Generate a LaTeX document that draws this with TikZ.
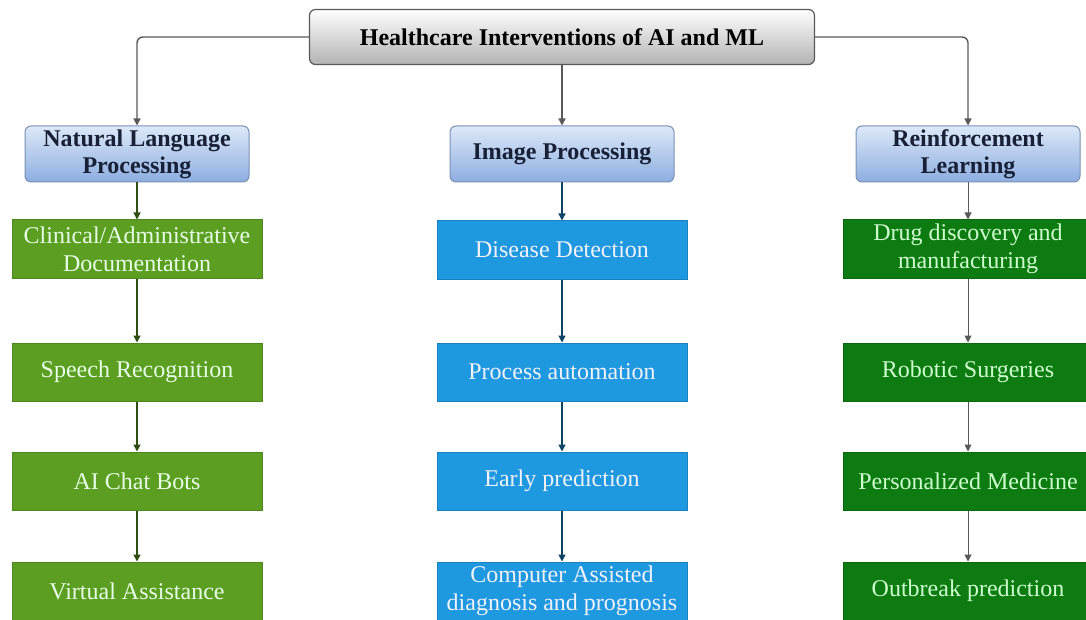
\documentclass[tikz,border=0pt]{standalone}
\usepackage{fontspec}
\setmainfont{Liberation Serif}
\usetikzlibrary{arrows.meta,positioning,shapes}
\definecolor{leafgreen}{HTML}{5C9E22}
\definecolor{leafblue}{HTML}{1E98DE}
\definecolor{leafdark}{HTML}{0E7A12}
\definecolor{headtop}{HTML}{DCE8F8}
\definecolor{headbot}{HTML}{8DAEE0}
\definecolor{headline}{HTML}{7A90B4}
\definecolor{headtext}{HTML}{172036}
\definecolor{linegray}{HTML}{595959}

\begin{document}
\begin{tikzpicture}[x=1pt,y=-1pt,
  rootbox/.style={draw=linegray,line width=1.2pt,rounded corners=6pt,
    top color=white,bottom color=black!30,minimum width=505pt,minimum height=55pt,
    inner sep=0pt,font=\fontsize{24}{28}\selectfont\bfseries,text=black},
  headbox/.style={draw=headline,line width=1pt,rounded corners=6pt,
    top color=headtop,bottom color=headbot,minimum width=224pt,minimum height=56pt,
    inner sep=0pt,align=center,font=\fontsize{24}{27}\selectfont\bfseries,text=headtext},
  leaf/.style={draw=#1!85!black,line width=1pt,fill=#1,minimum width=250pt,
    minimum height=58pt,inner sep=0pt,align=center,font=\fontsize{24}{28}\selectfont},
  arr/.style={-{Triangle[length=7pt,width=7pt]},line width=1.4pt,draw=linegray}]

\path[use as bounding box,clip] (0,0) rectangle (1086,620);

% ---- root and the three branches ------------------------------------------
\node[rootbox]              (root) at (562,37)  {Healthcare Interventions of AI and ML};
\node[headbox]              (nlp)  at (137,154) {Natural Language\\Processing};
\node[headbox]              (imp)  at (562,154) {Image Processing};
\node[headbox]              (rl)   at (968,154) {Reinforcement\\Learning};

% ---- left column ------------------------------------------------------------
\node[leaf=leafgreen,text=green!10] (n1) at (137,249) {Clinical/Administrative\\Documentation};
\node[leaf=leafgreen,text=green!10] (n2) at (137,372) {Speech Recognition};
\node[leaf=leafgreen,text=green!10] (n3) at (137,481) {AI Chat Bots};
\node[leaf=leafgreen,text=green!10] (n4) at (137,591) {Virtual Assistance};
% ---- middle column ----------------------------------------------------------
\node[leaf=leafblue,text=blue!5]    (i1) at (562,250) {Disease Detection};
\node[leaf=leafblue,text=blue!5]    (i2) at (562,372) {Process automation};
\node[leaf=leafblue,text=blue!5]    (i3) at (562,481) {Early prediction};
\node[leaf=leafblue,text=blue!5]    (i4) at (562,591) {Computer Assisted\\diagnosis and prognosis};
% ---- right column -----------------------------------------------------------
\node[leaf=leafdark,text=green!20]  (r1) at (968,249) {Drug discovery and\\manufacturing};
\node[leaf=leafdark,text=green!20]  (r2) at (968,372) {Robotic Surgeries};
\node[leaf=leafdark,text=green!20]  (r3) at (968,481) {Personalized Medicine};
\node[leaf=leafdark,text=green!20]  (r4) at (968,591) {Outbreak prediction};

% ---- connectors ---------------------------------------------------------------
\draw[arr,rounded corners=6pt] (root.west) -| (nlp.north);
\draw[arr]                     (root.south) -- (imp.north);
\draw[arr,rounded corners=6pt] (root.east) -| (rl.north);

\draw[arr,draw=leafgreen!50!black] (nlp) -- (n1);
\draw[arr,draw=leafgreen!50!black] (n1) -- (n2);
\draw[arr,draw=leafgreen!50!black] (n2) -- (n3);
\draw[arr,draw=leafgreen!50!black] (n3) -- (n4);

\draw[arr,draw=leafblue!45!black] (imp) -- (i1);
\draw[arr,draw=leafblue!45!black] (i1) -- (i2);
\draw[arr,draw=leafblue!45!black] (i2) -- (i3);
\draw[arr,draw=leafblue!45!black] (i3) -- (i4);

\draw[arr,line width=1pt] (rl) -- (r1);
\draw[arr,line width=1pt] (r1) -- (r2);
\draw[arr,line width=1pt] (r2) -- (r3);
\draw[arr,line width=1pt] (r3) -- (r4);
\end{tikzpicture}
\end{document}
